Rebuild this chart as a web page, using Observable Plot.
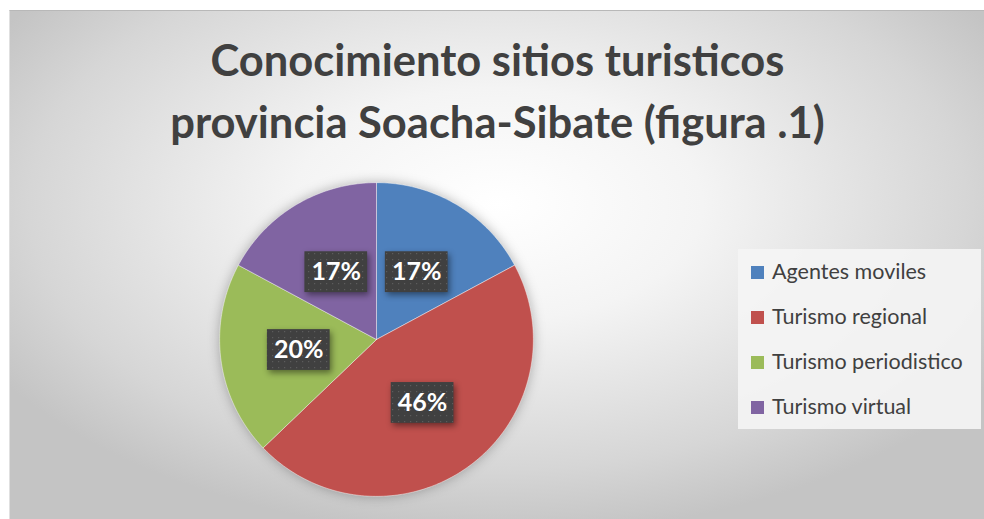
<!DOCTYPE html>
<html>
<head>
<meta charset="utf-8">
<script src="https://cdn.jsdelivr.net/npm/d3@7"></script>
<script src="https://cdn.jsdelivr.net/npm/@observablehq/plot@0.6"></script>
<style>
  html, body { margin: 0; padding: 0; background: #ffffff; }
  #frame {
    position: absolute; left: 9px; top: 10px; width: 975px; height: 509px;
    background: radial-gradient(ellipse 60% 65% at 50% 38%, #ffffff 0%, #f4f4f4 35%, #d6d6d6 80%, #c4c4c4 100%);
    border-top: 1px solid #b8b8b8; border-left: 1px solid #e0e0e0;
    overflow: hidden;
  }
  #title {
    position: absolute; left: 0; top: 17px; width: 975px; text-align: center;
    font-family: Lato, "Open Sans", sans-serif; font-weight: 700; font-size: 43.5px;
    line-height: 62px; color: #404040;
  }
  #chart { position: absolute; left: 205.5px; top: 168px; }
  #chart svg { overflow: visible; }
  #chart g[aria-label="line"] { filter: drop-shadow(0px 0px 6px rgba(0,0,0,0.28)); }
  #chart g[aria-label="rect"] { filter: drop-shadow(2px 3px 3px rgba(0,0,0,0.45)); }
  #legend {
    position: absolute; left: 728px; top: 238px; width: 243px; height: 180px;
    background: rgba(244,244,244,0.92);
    font-family: Lato, "Open Sans", sans-serif; font-size: 21.5px; color: #404040;
  }
  .item { position: absolute; left: 13px; height: 26px; line-height: 26px; white-space: nowrap; }
  .sw { display: inline-block; width: 13px; height: 13px; margin-right: 8px; vertical-align: 0px; }
</style>
</head>
<body>
<div id="frame">
  <div id="title">Conocimiento sitios turisticos<br>provincia Soacha-Sibate (figura .1)</div>
  <div id="chart"></div>
  <div id="legend"></div>
</div>
<script>
const categories = ["Agentes moviles", "Turismo regional", "Turismo periodistico", "Turismo virtual"];
const counts = [6, 16, 7, 6];
const colors = ["#4f81bd", "#c0504d", "#9bbb59", "#8064a2"];

const total = d3.sum(counts);
const arcs = d3.pie().sort(null)(counts);

// slice outlines built from the pie angles
const slicePts = [];
arcs.forEach((a, i) => {
  const name = categories[i];
  slicePts.push({name, x: 0, y: 0});
  const n = Math.max(2, Math.ceil((a.endAngle - a.startAngle) / (Math.PI / 180)));
  for (let k = 0; k <= n; k++) {
    const t = a.startAngle + (a.endAngle - a.startAngle) * k / n;
    slicePts.push({name, x: Math.sin(t), y: Math.cos(t)});
  }
  slicePts.push({name, x: 0, y: 0});
});

const labels = arcs.map((a, i) => {
  const m = (a.startAngle + a.endAngle) / 2;
  return {name: categories[i], x: 0.5 * Math.sin(m), y: 0.5 * Math.cos(m),
          text: Math.round(counts[i] / total * 100) + "%"};
});

const bw = 0.2, bh = 0.13;
const plot = Plot.plot({
  width: 320, height: 320, margin: 0,
  x: {domain: [-1.02, 1.02], axis: null},
  y: {domain: [-1.02, 1.02], axis: null},
  color: {domain: categories, range: colors},
  style: {background: "transparent", overflow: "visible"},
  marks: [
    Plot.line(slicePts, {x: "x", y: "y", z: "name", fill: "name", stroke: "#ffffff", strokeWidth: 0.8, strokeOpacity: 0.55, curve: "linear"}),
    Plot.rect(labels, {x1: d => d.x - bw, x2: d => d.x + bw, y1: d => d.y - bh, y2: d => d.y + bh, fill: "#404040"}),
    Plot.text(labels, {x: "x", y: "y", text: "text", fill: "#ffffff", fontSize: 25, fontWeight: 700, fontFamily: "Lato, 'Open Sans', sans-serif"})
  ]
});
document.getElementById("chart").appendChild(plot);

// dotted texture on label boxes
const svg = d3.select(plot);
const defs = svg.insert("defs", ":first-child");
const pat = defs.append("pattern").attr("id", "dots").attr("width", 6).attr("height", 6).attr("patternUnits", "userSpaceOnUse");
pat.append("rect").attr("width", 6).attr("height", 6).attr("fill", "#404040");
pat.append("rect").attr("x", 2).attr("y", 2).attr("width", 1.2).attr("height", 1.2).attr("fill", "#5c5c5c");
svg.selectAll('g[aria-label="rect"] rect').attr("fill", "url(#dots)");

// legend
const legend = document.getElementById("legend");
categories.forEach((c, i) => {
  const el = document.createElement("div");
  el.className = "item";
  el.style.top = (9 + i * 45) + "px";
  el.innerHTML = `<span class="sw" style="background:${colors[i]}"></span>${c}`;
  legend.appendChild(el);
});
</script>
</body>
</html>
